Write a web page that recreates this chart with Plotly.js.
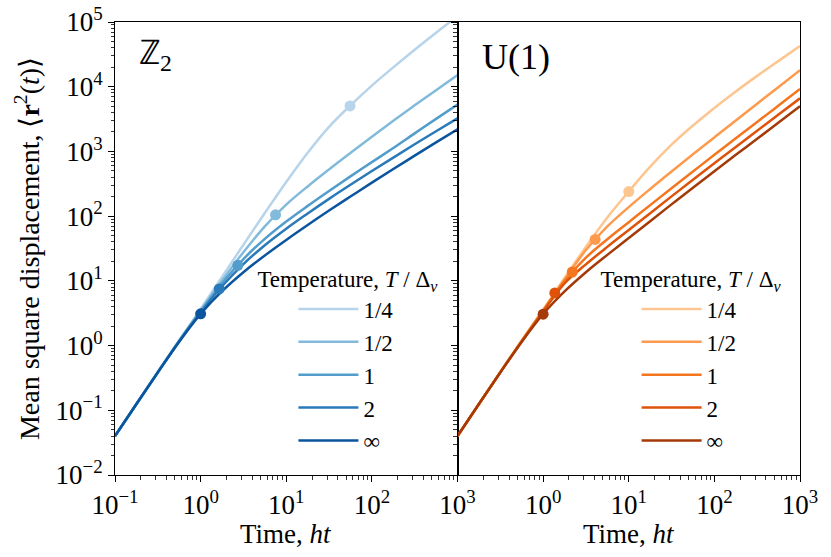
<!DOCTYPE html>
<html>
<head>
<meta charset="utf-8">
<script src="https://cdn.plot.ly/plotly-3.0.1.min.js"></script>
<style>html,body{margin:0;padding:0;background:#fff;}</style>
</head>
<body>
<div id="chart" style="width:831px;height:557px;"></div>
<script>
// ---- data ----
const time = [0.1, 0.178, 0.316, 0.562, 1, 1.78, 3.16, 5.62, 10, 17.8, 31.6, 56.2, 100, 178, 316, 562, 1000];
const temperatureLabels = ["1/4", "1/2", "1", "2", "∞"];

// Z2 panel
const z2_quarter = [0.040, 0.125, 0.391, 1.21, 3.69, 11.5, 36.1, 112, 338, 954, 2400, 5150, 10400, 19900, 37300, 68300, 123000];
const z2_half    = [0.040, 0.125, 0.389, 1.19, 3.48, 10.1, 27.7, 69.5, 151, 288, 527, 948, 1690, 2970, 5150, 8850, 15100];
const z2_one     = [0.040, 0.125, 0.386, 1.18, 3.37, 9.16, 21.7, 44.6, 82.6, 144, 245, 412, 683, 1130, 1900, 3180, 5300];
const z2_two     = [0.040, 0.125, 0.386, 1.17, 3.25, 8.26, 18.2, 35.6, 64.1, 110, 185, 305, 498, 803, 1290, 2050, 3250];
const z2_inf     = [0.040, 0.125, 0.384, 1.15, 3.09, 6.92, 13.6, 24.7, 42.9, 72.9, 122, 201, 329, 534, 861, 1380, 2200];
const z2_dot_t = [55.6, 7.5, 2.72, 1.65, 1.0];
const z2_dot_y = [5050, 105, 17.4, 7.5, 3.1];

// U(1) panel
const u1_quarter = [0.040, 0.125, 0.390, 1.20, 3.59, 11.1, 33.5, 95.5, 240, 582, 1270, 2510, 4700, 8450, 14700, 25100, 42600];
const u1_half    = [0.040, 0.125, 0.388, 1.19, 3.51, 10.5, 29.9, 69.2, 138, 263, 490, 902, 1650, 3010, 5460, 9890, 18000];
const u1_one     = [0.040, 0.125, 0.387, 1.17, 3.43, 9.93, 22.8, 43.9, 80.7, 148, 270, 489, 886, 1600, 2860, 5120, 9210];
const u1_two     = [0.040, 0.125, 0.386, 1.16, 3.35, 9.16, 18.0, 33.5, 61.0, 111, 202, 365, 656, 1175, 2090, 3715, 6610];
const u1_inf     = [0.040, 0.125, 0.384, 1.14, 3.07, 6.87, 13.6, 25.2, 45.9, 83.6, 152, 275, 495, 885, 1570, 2800, 5000];
const u1_dot_t = [10, 4.05, 2.19, 1.37, 1.0];
const u1_dot_y = [240, 43.7, 13.7, 6.5, 3.06];

// tick labels
const xTickVals = [0.1, 1, 10, 100, 1000];
const xTickText1 = ["10<sup>−1</sup>", "10<sup>0</sup>", "10<sup>1</sup>", "10<sup>2</sup>", "10<sup>3</sup>"];
const xTickText2 = ["", "10<sup>0</sup>", "10<sup>1</sup>", "10<sup>2</sup>", "10<sup>3</sup>"];
const yTickVals = [0.01, 0.1, 1, 10, 100, 1000, 10000, 100000];
const yTickText = ["10<sup>−2</sup>", "10<sup>−1</sup>", "10<sup>0</sup>", "10<sup>1</sup>", "10<sup>2</sup>", "10<sup>3</sup>", "10<sup>4</sup>", "10<sup>5</sup>"];

// ---- styles ----
const blues = ["#b7d4ea", "#81badb", "#529dcc", "#2a7ab9", "#0b559f"];
const oranges = ["#fdc590", "#fd9a4e", "#f4761f", "#de520a", "#a33a07"];
const FONT = "Liberation Serif";

const z2Series = [z2_quarter, z2_half, z2_one, z2_two, z2_inf];
const u1Series = [u1_quarter, u1_half, u1_one, u1_two, u1_inf];

const traces = [];
z2Series.forEach((ys, i) => {
  traces.push({
    x: time, y: ys, xaxis: "x", yaxis: "y", mode: "lines",
    line: {color: blues[i], width: 2.5, shape: "spline", smoothing: 1},
    name: temperatureLabels[i], legend: "legend", hoverinfo: "skip"
  });
});
traces.push({
  x: z2_dot_t, y: z2_dot_y, xaxis: "x", yaxis: "y", mode: "markers",
  marker: {color: blues, size: 11}, showlegend: false, hoverinfo: "skip"
});
u1Series.forEach((ys, i) => {
  traces.push({
    x: time, y: ys, xaxis: "x2", yaxis: "y2", mode: "lines",
    line: {color: oranges[i], width: 2.5, shape: "spline", smoothing: 1},
    name: temperatureLabels[i], legend: "legend2", hoverinfo: "skip"
  });
});
traces.push({
  x: u1_dot_t, y: u1_dot_y, xaxis: "x2", yaxis: "y2", mode: "markers",
  marker: {color: oranges, size: 11}, showlegend: false, hoverinfo: "skip"
});

const axCommon = {
  type: "log", showgrid: false, zeroline: false,
  showline: true, linecolor: "black", linewidth: 1, mirror: true,
  ticks: "outside", ticklen: 6, tickwidth: 1, tickcolor: "black",
  minor: {ticks: "outside", ticklen: 3.5, tickwidth: 0.8, tickcolor: "black", dtick: "D1"},
  tickfont: {family: FONT, size: 27, color: "black"}
};

const legendCommon = {
  xanchor: "left", yanchor: "top", y: 0.48,
  bgcolor: "rgba(0,0,0,0)", borderwidth: 0,
  font: {family: FONT, size: 23, color: "black"},
  title: {text: "Temperature, <i>T</i> / Δ<sub><i>v</i></sub>", font: {family: FONT, size: 23, color: "black"}},
  indentation: 38, itemwidth: 60
};

const layout = {
  width: 831, height: 557,
  margin: {l: 115, r: 31, t: 22, b: 82},
  paper_bgcolor: "white", plot_bgcolor: "white",
  font: {family: FONT, size: 27, color: "black"},
  showlegend: true,
  xaxis: Object.assign({}, axCommon, {
    domain: [0, 0.5], range: [-1, 3], anchor: "y",
    tickvals: xTickVals, ticktext: xTickText1
  }),
  xaxis2: Object.assign({}, axCommon, {
    domain: [0.5, 1], range: [-1, 3], anchor: "y2",
    tickvals: xTickVals, ticktext: xTickText2
  }),
  yaxis: Object.assign({}, axCommon, {
    domain: [0, 1], range: [-2, 5], anchor: "x",
    tickvals: yTickVals, ticktext: yTickText,
    title: {text: "Mean square displacement, ⟨<b>r</b><sup>2</sup>(<i>t</i>)⟩", font: {family: FONT, size: 28}, standoff: 7}
  }),
  yaxis2: Object.assign({}, axCommon, {
    domain: [0, 1], range: [-2, 5], anchor: "x2", matches: "y",
    tickvals: yTickVals, showticklabels: false
  }),
  legend: Object.assign({}, legendCommon, {x: 0.205}),
  legend2: Object.assign({}, legendCommon, {x: 0.706}),
  annotations: [
    {text: "ℤ<sub>2</sub>", xref: "x domain", yref: "y domain", x: 0.065, y: 0.978,
     xanchor: "left", yanchor: "top", showarrow: false, font: {family: FONT, size: 34, color: "black"}},
    {text: "U(1)", xref: "x2 domain", yref: "y2 domain", x: 0.065, y: 0.972,
     xanchor: "left", yanchor: "top", showarrow: false, font: {family: FONT, size: 36, color: "black"}},
    {text: "Time, <i>ht</i>", xref: "x domain", yref: "paper", x: 0.5, y: -0.131,
     xanchor: "center", yanchor: "middle", showarrow: false, font: {family: FONT, size: 27, color: "black"}},
    {text: "Time, <i>ht</i>", xref: "x2 domain", yref: "paper", x: 0.5, y: -0.131,
     xanchor: "center", yanchor: "middle", showarrow: false, font: {family: FONT, size: 27, color: "black"}}
  ]
};

Plotly.newPlot("chart", traces, layout, {displayModeBar: false, staticPlot: true});
</script>
</body>
</html>
